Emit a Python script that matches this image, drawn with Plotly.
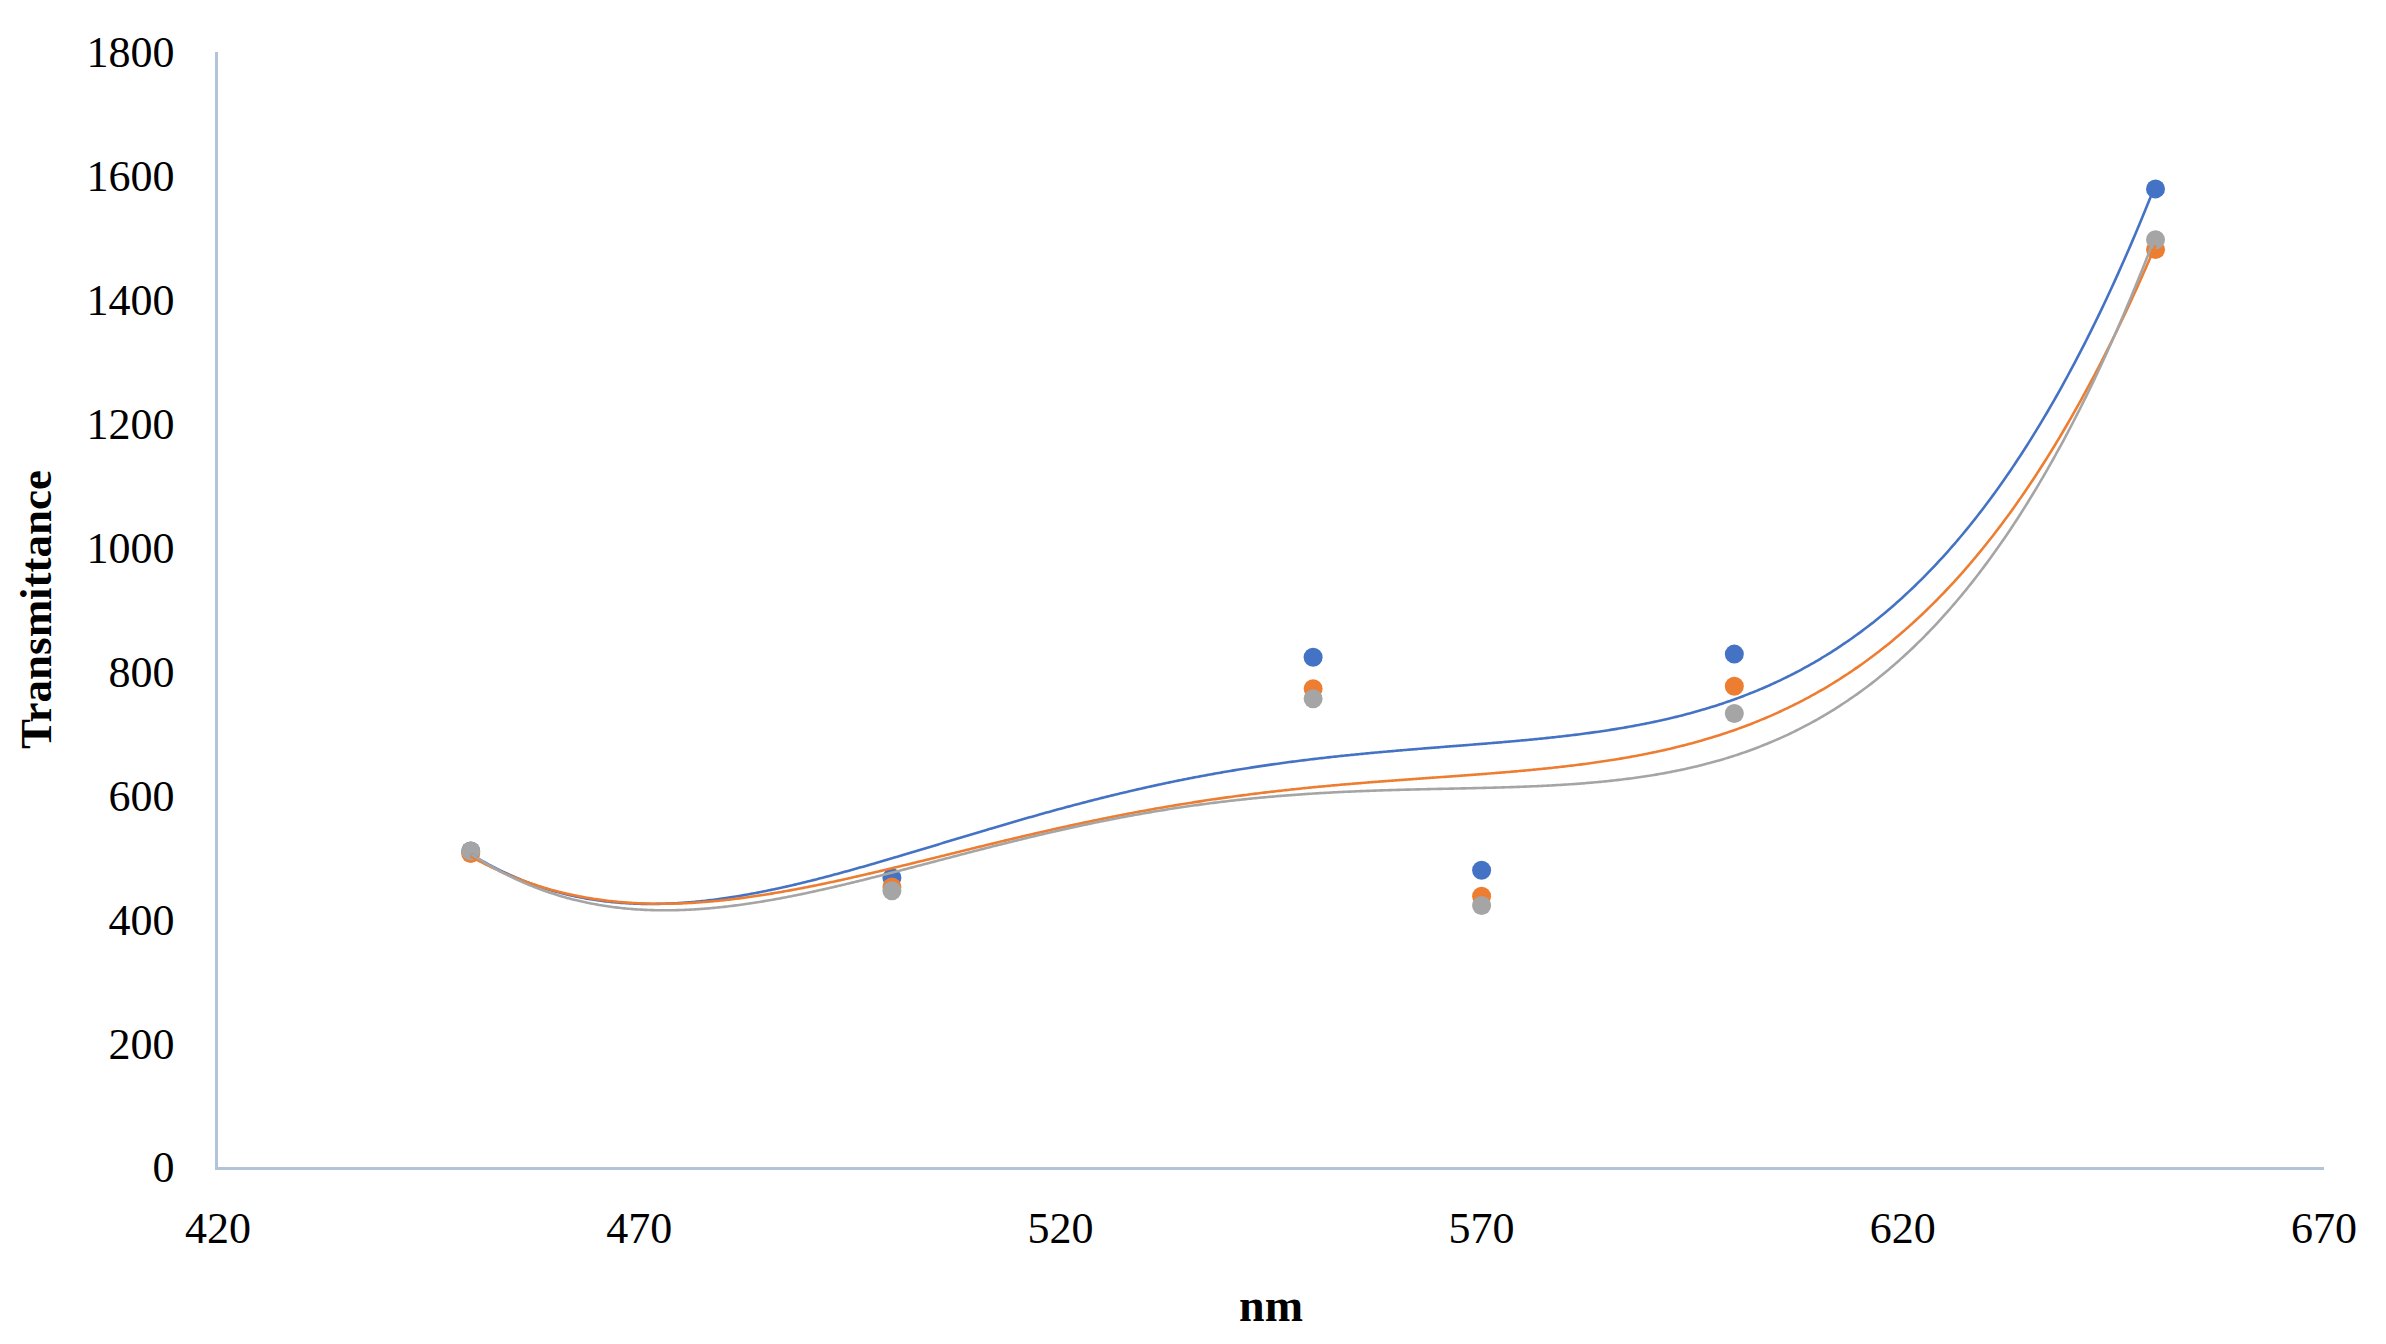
import numpy as np
import plotly.graph_objects as go

wavelength_nm = [450, 500, 550, 570, 600, 650]
series_names = ["Series 1", "Series 2", "Series 3"]
blue_values = [510, 467, 823, 479, 828, 1579]
orange_values = [506, 452, 772, 437, 776, 1481]
gray_values = [510, 446, 756, 422, 732, 1497]
colors = ["#4472C4", "#ED7D31", "#A5A5A5"]

x_ticks = [420, 470, 520, 570, 620, 670]
y_ticks = [0, 200, 400, 600, 800, 1000, 1200, 1400, 1600, 1800]

fig = go.Figure()
all_values = [blue_values, orange_values, gray_values]

for name, vals, col in zip(series_names, all_values, colors):
    fig.add_trace(go.Scatter(
        x=wavelength_nm, y=vals, mode="markers", name=name,
        marker=dict(color=col, size=19, line=dict(width=0)),
        showlegend=False,
    ))

# polynomial (order 4) trendlines fitted from the data
xs = np.linspace(min(wavelength_nm), max(wavelength_nm), 500)
for name, vals, col in zip(series_names, all_values, colors):
    p = np.polynomial.Polynomial.fit(wavelength_nm, vals, 4)
    fig.add_trace(go.Scatter(
        x=xs, y=p(xs), mode="lines", name=name + " trend",
        line=dict(color=col, width=2.6, shape="spline"),
        showlegend=False, hoverinfo="skip",
    ))

axis_color = "#B3C3D8"
font_family = "Liberation Serif, Times New Roman, serif"

fig.update_layout(
    width=2378, height=1336,
    paper_bgcolor="white", plot_bgcolor="white",
    margin=dict(l=210, r=62, t=44, b=177),
    font=dict(family=font_family, size=44, color="#000000"),
    xaxis=dict(
        range=[420, 670], tickvals=x_ticks, ticktext=[str(v) for v in x_ticks],
        showgrid=False, zeroline=False, showline=True, linecolor=axis_color, linewidth=2.5,
        ticks="", ticklabelstandoff=20,
        tickfont=dict(family=font_family, size=44),
        title=dict(text="<b>nm</b>", font=dict(family=font_family, size=46), standoff=38),
    ),
    yaxis=dict(
        range=[0, 1800], tickvals=y_ticks, ticktext=[str(v) for v in y_ticks],
        showgrid=False, zeroline=False, showline=True, linecolor=axis_color, linewidth=2.5,
        ticks="", ticklabelstandoff=32,
        tickfont=dict(family=font_family, size=44),
        title=dict(text="<b>Transmittance</b>", font=dict(family=font_family, size=45), standoff=21),
    ),
)

fig.write_html("out.html")
